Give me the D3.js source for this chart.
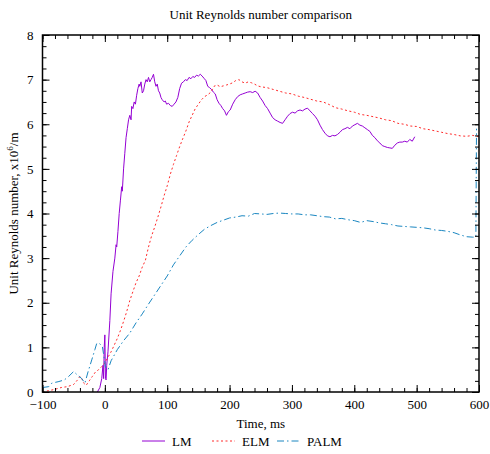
<!DOCTYPE html>
<html>
<head>
<meta charset="utf-8">
<script src="https://cdn.jsdelivr.net/npm/d3@7"></script>
<style>
  body { margin: 0; background: #fff; }
  text { font-family: "Liberation Serif", "DejaVu Serif", serif; }
</style>
</head>
<body>
<svg id="chart" width="490" height="454"></svg>
<script>
// LM (solid) - time ms / unit Re x10^6
var lmT = [-12,-8,-5,-3,-2,-1,0,1,2,3,5,8,10,13,16,18,19,21,23,25,27,28,30,32,34,36,38,40,42,43,45,47,49,51,53,55,56,58,60,62,64,66,68,70,72,74,76,78,80,82,84,86,88,90,92,95,97,99,102,105,108,111,114,117,120,123,126,129,132,135,138,141,144,147,150,153,156,159,162,165,168,171,174,177,180,183,186,189,192,195,198,201,205,209,213,217,221,225,229,233,237,241,245,249,253,257,261,265,269,273,277,281,285,289,293,297,301,305,309,313,317,321,325,329,333,337,341,345,349,353,357,361,365,369,373,377,381,385,389,393,397,401,405,409,413,417,421,425,429,433,437,441,445,449,453,457,461,465,469,473,477,481,485,489,493,497];
var lmV = [0,0.1,0.3,0.6,0.3,1.0,1.28,0.3,0.27,0.6,0.9,1.6,2.2,2.7,3.0,3.3,3.25,3.6,4.0,4.3,4.6,4.5,5.0,5.35,5.7,5.9,6.1,6.2,6.1,6.4,6.35,6.5,6.45,6.65,6.8,6.9,6.85,6.95,6.7,6.75,6.9,7.0,6.95,7.05,6.95,7.0,7.05,7.12,6.95,6.85,6.9,6.75,6.7,6.6,6.55,6.5,6.52,6.45,6.47,6.42,6.4,6.45,6.5,6.6,6.8,6.92,6.95,7.0,6.98,7.05,7.02,7.07,7.05,7.1,7.08,7.12,7.08,7.03,6.98,6.85,6.82,6.78,6.72,6.68,6.55,6.47,6.42,6.35,6.3,6.2,6.28,6.32,6.45,6.55,6.62,6.66,6.68,6.7,6.72,6.73,6.71,6.74,6.7,6.6,6.52,6.42,6.35,6.25,6.15,6.1,6.07,6.04,6.02,6.1,6.18,6.24,6.27,6.25,6.3,6.32,6.3,6.34,6.36,6.3,6.24,6.18,6.1,5.98,5.88,5.8,5.74,5.72,5.75,5.74,5.77,5.82,5.88,5.9,5.93,5.9,5.96,5.99,6.02,5.98,5.96,5.92,5.88,5.84,5.75,5.7,5.63,5.58,5.52,5.5,5.48,5.47,5.46,5.53,5.58,5.6,5.6,5.62,5.6,5.66,5.62,5.72];

// ELM (dotted)
var elmT = [-100,-90,-80,-70,-60,-50,-45,-40,-37,-34,-30,-25,-20,-15,-10,-5,0,5,10,15,20,25,30,35,40,45,50,55,60,65,70,75,80,85,90,95,100,105,110,115,120,125,130,135,140,145,150,155,160,165,170,175,180,185,190,195,200,205,210,215,220,225,230,235,240,245,250,260,270,280,290,300,310,320,330,340,350,360,370,380,390,400,410,420,430,440,450,460,470,480,490,500,510,520,530,540,550,560,570,580,590,600];
var elmV = [0,0.03,0.06,0.1,0.12,0.17,0.25,0.35,0.3,0.2,0.15,0.25,0.35,0.45,0.5,0.57,0.65,0.78,0.9,1.05,1.2,1.38,1.58,1.8,2.05,2.25,2.45,2.6,2.8,2.95,3.25,3.5,3.7,3.92,4.15,4.4,4.62,4.88,5.1,5.3,5.5,5.68,5.85,6.05,6.2,6.35,6.45,6.55,6.62,6.66,6.72,6.85,6.88,6.84,6.86,6.88,6.9,6.93,6.98,7.0,6.95,6.92,6.95,6.93,6.9,6.86,6.84,6.82,6.78,6.74,6.7,6.68,6.63,6.6,6.56,6.52,6.5,6.44,6.37,6.34,6.3,6.27,6.22,6.2,6.17,6.14,6.1,6.08,6.02,6.0,5.96,5.95,5.9,5.88,5.85,5.82,5.79,5.77,5.74,5.73,5.75,5.72];

// PALM (dash-dot)
var palmT = [-100,-90,-85,-75,-65,-58,-50,-44,-37,-32,-27,-21,-16,-13,-8,-4,-1,1,5,10,20,30,40,50,60,70,80,90,100,110,120,130,140,150,160,170,180,190,200,210,220,230,240,250,260,270,280,290,300,310,320,330,340,350,360,370,380,390,400,410,420,430,440,450,460,470,480,490,500,510,520,530,540,550,560,570,580,590,595,596];
var palmV = [0.1,0.12,0.2,0.23,0.27,0.35,0.46,0.38,0.3,0.2,0.45,0.72,0.95,1.09,1.08,1.02,0.75,0.55,0.5,0.7,0.95,1.15,1.32,1.55,1.75,1.97,2.18,2.39,2.6,2.85,3.05,3.25,3.4,3.53,3.65,3.73,3.8,3.85,3.9,3.92,3.95,3.94,4.0,3.99,3.98,4.0,4.01,4.0,3.99,3.99,3.97,3.97,3.95,3.93,3.92,3.88,3.89,3.86,3.84,3.8,3.84,3.82,3.79,3.77,3.75,3.72,3.71,3.7,3.69,3.68,3.66,3.63,3.62,3.6,3.57,3.52,3.48,3.47,3.47,5.9];

var seriesNames = ["LM", "ELM", "PALM"];
var seriesColors = ["#9400d3", "#ff2a2a", "#1a86c0"];
var seriesDash = [null, "2,2.5", "7,3,1.5,3"];

var pLeft = 42.5, pRight = 479, pTop = 35, pBottom = 392;

var svg = d3.select("#chart");

var x = d3.scaleLinear().domain([-100, 600]).range([pLeft, pRight]);
var y = d3.scaleLinear().domain([0, 8]).range([pBottom, pTop]);

var data = [
  {name: seriesNames[0], t: lmT, v: lmV},
  {name: seriesNames[1], t: elmT, v: elmV},
  {name: seriesNames[2], t: palmT, v: palmV}
];

svg.append("defs").append("clipPath").attr("id", "clip")
  .append("rect")
  .attr("x", pLeft).attr("y", pTop)
  .attr("width", pRight - pLeft).attr("height", pBottom - pTop);

var line = d3.line()
  .x(d => x(d[0]))
  .y(d => y(d[1]));

data.forEach((s, i) => {
  var pts = s.t.map((t, j) => [t, s.v[j]]);
  svg.append("path")
    .attr("clip-path", "url(#clip)")
    .attr("d", line(pts))
    .attr("fill", "none")
    .attr("stroke", seriesColors[i])
    .attr("stroke-width", 1)
    .attr("stroke-dasharray", seriesDash[i]);
});

// axes - ticks point inward on all four sides
function styleAxis(g) {
  g.selectAll(".domain").remove();
  g.selectAll("line").attr("stroke", "#000").attr("stroke-width", 1);
  g.selectAll("text").attr("font-size", 13).attr("fill", "#000")
    .attr("font-family", "'Liberation Serif', serif");
}

var xMajor = d3.range(-100, 601, 100);
var xMinor = d3.range(-100, 601, 20);
var yMajor = d3.range(0, 9, 1);
var yMinor = d3.range(0, 8.01, 0.25);

svg.append("g").attr("transform", "translate(0," + pBottom + ")")
  .call(d3.axisBottom(x).tickValues(xMinor).tickSize(-4).tickFormat(""))
  .call(styleAxis);
svg.append("g").attr("transform", "translate(0," + pBottom + ")")
  .call(d3.axisBottom(x).tickValues(xMajor).tickSize(-7).tickPadding(8))
  .call(styleAxis);
svg.append("g").attr("transform", "translate(0," + pTop + ")")
  .call(d3.axisTop(x).tickValues(xMinor).tickSize(-4).tickFormat(""))
  .call(styleAxis);
svg.append("g").attr("transform", "translate(0," + pTop + ")")
  .call(d3.axisTop(x).tickValues(xMajor).tickSize(-7).tickFormat(""))
  .call(styleAxis);

svg.append("g").attr("transform", "translate(" + pLeft + ",0)")
  .call(d3.axisLeft(y).tickValues(yMinor).tickSize(-4).tickFormat(""))
  .call(styleAxis);
svg.append("g").attr("transform", "translate(" + pLeft + ",0)")
  .call(d3.axisLeft(y).tickValues(yMajor).tickSize(-7).tickPadding(9))
  .call(styleAxis);
svg.append("g").attr("transform", "translate(" + pRight + ",0)")
  .call(d3.axisRight(y).tickValues(yMinor).tickSize(-4).tickFormat(""))
  .call(styleAxis);
svg.append("g").attr("transform", "translate(" + pRight + ",0)")
  .call(d3.axisRight(y).tickValues(yMajor).tickSize(-7).tickFormat(""))
  .call(styleAxis);

// frame
svg.append("rect")
  .attr("x", pLeft).attr("y", pTop)
  .attr("width", pRight - pLeft).attr("height", pBottom - pTop)
  .attr("fill", "none").attr("stroke", "#000").attr("stroke-width", 1.5);

// title & labels
svg.append("text")
  .attr("x", (pLeft + pRight) / 2).attr("y", 19)
  .attr("text-anchor", "middle").attr("font-size", 13)
  .text("Unit Reynolds number comparison");

svg.append("text")
  .attr("x", (pLeft + pRight) / 2).attr("y", 428)
  .attr("text-anchor", "middle").attr("font-size", 13)
  .text("Time, ms");

var yl = svg.append("text")
  .attr("transform", "translate(18," + ((pTop + pBottom) / 2) + ") rotate(-90)")
  .attr("text-anchor", "middle").attr("font-size", 13);
yl.append("tspan").text("Unit Reynolds number, x10");
yl.append("tspan").attr("dy", -5).attr("font-size", 9).text("6");
yl.append("tspan").attr("dy", 5).text("/m");

// legend
var legendX = [142, 212, 277];
var legend = svg.append("g");
seriesNames.forEach((n, i) => {
  legend.append("line")
    .attr("x1", legendX[i]).attr("x2", legendX[i] + 23)
    .attr("y1", 441).attr("y2", 441)
    .attr("stroke", seriesColors[i]).attr("stroke-width", 1)
    .attr("stroke-dasharray", seriesDash[i]);
  legend.append("text")
    .attr("x", legendX[i] + 30).attr("y", 445.5)
    .attr("font-size", 13)
    .text(n);
});
</script>
</body>
</html>
